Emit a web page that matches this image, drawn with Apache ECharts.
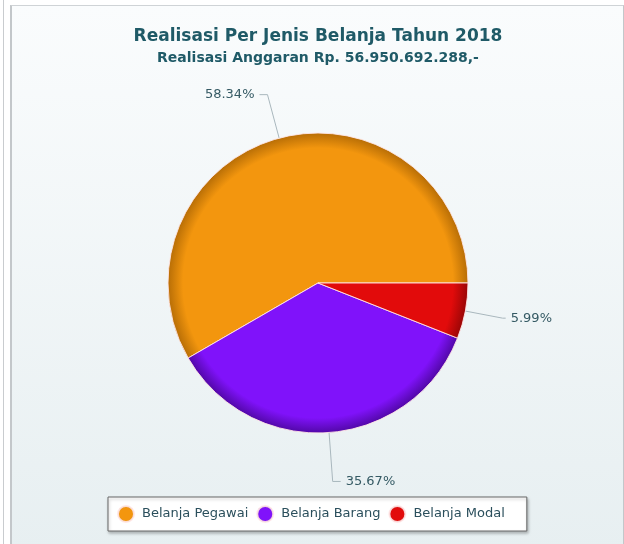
<!DOCTYPE html>
<html>
<head>
<meta charset="utf-8">
<script src="https://cdn.jsdelivr.net/npm/echarts@6/dist/echarts.min.js"></script>
<style>
html,body{margin:0;padding:0;width:624px;height:544px;overflow:hidden;background:#fff;}
#line1{position:absolute;left:3px;top:0;width:1px;height:544px;background:#c9cccf;}
#frame{position:absolute;left:10px;top:5px;width:611px;height:545px;border-left:2px solid #c3c7ca;border-top:1px solid #cfd3d6;border-right:1px solid #c3c7ca;background:linear-gradient(#fafcfd,#e7eff1);}
#chart{position:absolute;left:0;top:0;width:624px;height:544px;}
</style>
</head>
<body>
<div id="line1"></div>
<div id="frame"></div>
<div id="chart"></div>
<script>
const categories = ['Belanja Pegawai', 'Belanja Barang', 'Belanja Modal'];
const percentValues = [58.34, 35.67, 5.99];
const titleText = 'Realisasi Per Jenis Belanja Tahun 2018';
const subtitleText = 'Realisasi Anggaran Rp. 56.950.692.288,-';

const baseColors = ['#f3960e', '#8012fa', '#e20b0b'];
const rimColors = ['#b86e06', '#5208a8', '#9a0606'];
const lineLengths = [[45, 8], [49, 8], [38, 3]];

const cx = 318, cy = 283, R = 150;
function grad(i) {
  return new echarts.graphic.RadialGradient(cx, cy, R, [
    {offset: 0, color: baseColors[i]},
    {offset: 0.9, color: baseColors[i]},
    {offset: 1, color: rimColors[i]}
  ], true);
}
function iconGrad(i) {
  return new echarts.graphic.RadialGradient(0.5, 0.5, 0.5, [
    {offset: 0, color: baseColors[i]},
    {offset: 0.7, color: baseColors[i]},
    {offset: 1, color: rimColors[i]}
  ]);
}

const chart = echarts.init(document.getElementById('chart'), null, {renderer: 'canvas'});
chart.setOption({
  backgroundColor: 'transparent',
  animation: false,
  graphic: [{
    type: 'text',
    x: 318,
    y: 28,
    style: {
      text: titleText,
      font: 'bold 17px "DejaVu Sans"',
      fill: '#1f5a67',
      align: 'center',
      verticalAlign: 'top'
    }
  }, {
    type: 'text',
    x: 318,
    y: 51,
    style: {
      text: subtitleText,
      font: 'bold 14px "DejaVu Sans"',
      fill: '#1f5a67',
      align: 'center',
      verticalAlign: 'top'
    }
  }],
  legend: {
    data: categories.map((name, i) => ({name: name, itemStyle: {color: iconGrad(i)}})),
    left: 108,
    top: 497,
    orient: 'horizontal',
    icon: 'circle',
    itemWidth: 16,
    itemHeight: 16,
    itemGap: 8,
    padding: [8, 22, 8, 9],
    backgroundColor: '#ffffff',
    borderColor: '#666',
    borderWidth: 1,
    borderRadius: 0,
    shadowColor: 'rgba(0,0,0,0.25)',
    shadowBlur: 3,
    shadowOffsetX: 1,
    shadowOffsetY: 2,
    textStyle: {fontFamily: 'DejaVu Sans', fontSize: 13, color: '#2b4f5c', padding: [0, 0, 0, 3]},
    selectedMode: false
  },
  series: [{
    type: 'pie',
    center: [cx, cy],
    radius: [0, R],
    startAngle: 0,
    clockwise: false,
    avoidLabelOverlap: false,
    emphasis: {disabled: true},
    itemStyle: {borderColor: 'rgba(255,230,230,0.9)', borderWidth: 1},
    label: {
      show: true,
      formatter: '{c}%',
      fontFamily: 'DejaVu Sans',
      fontSize: 13,
      color: '#355a64'
    },
    labelLine: {
      show: true,
      length: 42,
      length2: 8,
      lineStyle: {color: '#a9b7bd', width: 1}
    },
    data: categories.map((name, i) => ({
      name: name,
      value: percentValues[i],
      itemStyle: {color: grad(i)},
      labelLine: {length: lineLengths[i][0], length2: lineLengths[i][1]}
    }))
  }]
});
</script>
</body>
</html>
